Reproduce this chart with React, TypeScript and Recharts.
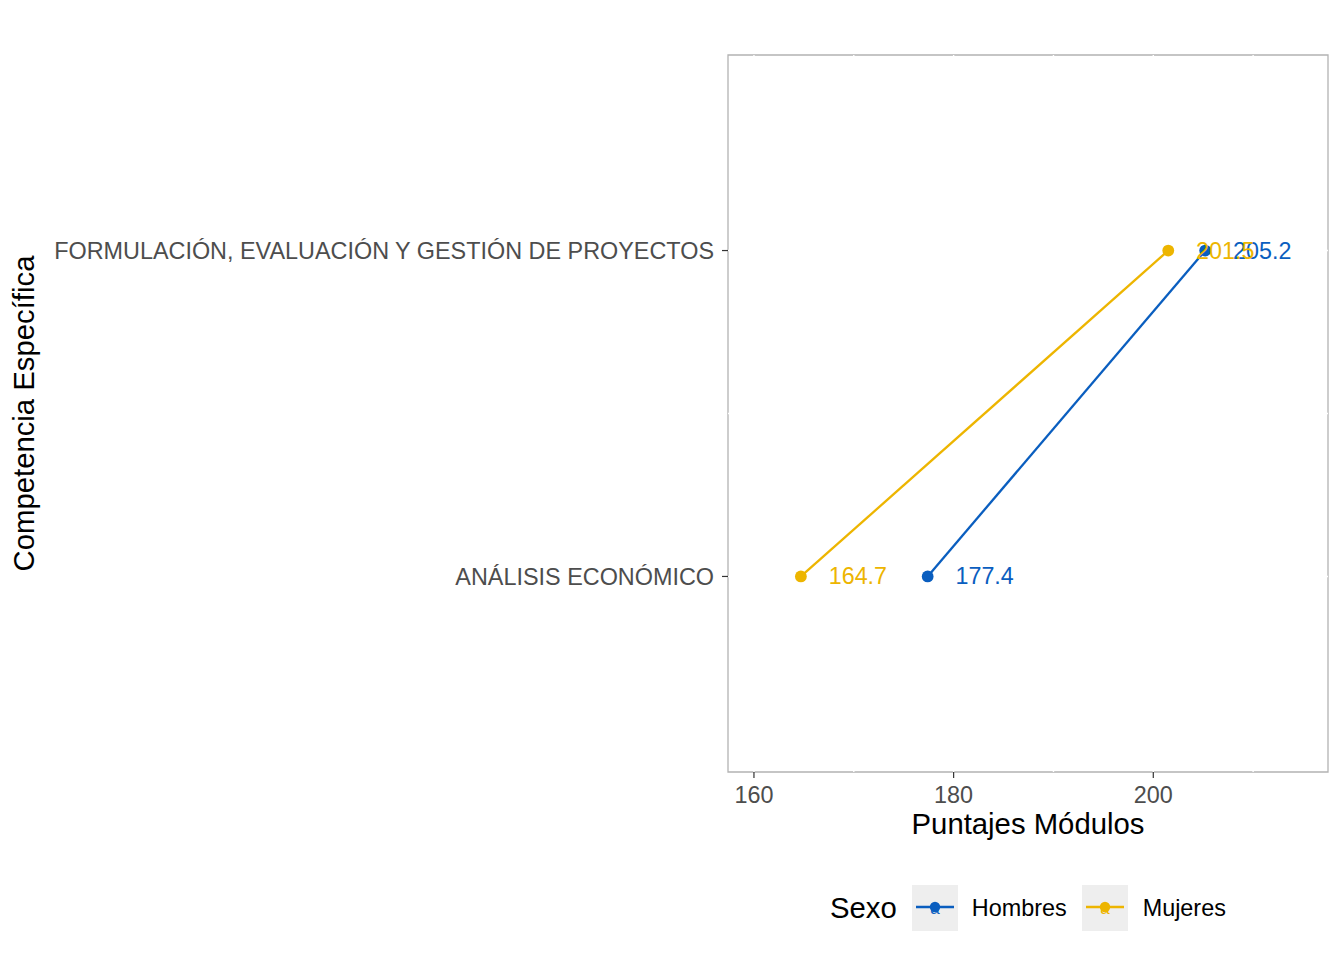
import React from 'react';
import {
  ScatterChart, Scatter, XAxis, YAxis, ReferenceArea, ReferenceLine, LabelList, Label,
} from 'recharts';

const FONT = '"Liberation Sans", Arial, Helvetica, sans-serif';

// values
const categories = ['ANÁLISIS ECONÓMICO', 'FORMULACIÓN, EVALUACIÓN Y GESTIÓN DE PROYECTOS'];
const hombres = [177.4, 205.2];
const mujeres = [164.7, 201.5];
const xTicks = [160, 180, 200];
const xGrid = [160, 170, 180, 190, 200, 210];
const yGrid = [1, 1.5, 2];
const sexes = ['Hombres', 'Mujeres'];

const BLUE = '#0A5EBF';
const GOLD = '#EDB500';
const COLORS = [BLUE, GOLD];

const X_DOMAIN: [number, number] = [157.4, 217.5];
const Y_DOMAIN: [number, number] = [0.4, 2.6];

const toPoints = (vals: number[]) => categories.map((c, i) => ({ x: vals[i], y: i + 1, cat: c }));
const series = [toPoints(hombres), toPoints(mujeres)];

const TICK = { fill: '#4D4D4D', fontSize: 23.4, fontFamily: FONT };
const TITLE_SIZE = 29.3;

const dot = (color: string) => (props: any) => (
  <circle cx={props.cx} cy={props.cy} r={5.9} fill={color} />
);

const valueLabel = (color: string) => (props: any) => {
  const { x, y, width, height, value } = props;
  const cx = Number(x) + Number(width || 0) / 2;
  const cy = Number(y) + Number(height || 0) / 2;
  return (
    <text x={cx + 57} y={cy} textAnchor="middle" dominantBaseline="central"
      fill={color} fontSize={23.3} fontFamily={FONT}>
      {Number(value).toFixed(1)}
    </text>
  );
};

const YTitle = (props: any) => {
  const vb = props.viewBox || { x: 0, y: 55, width: 728, height: 717 };
  const cx = vb.x + 33.5;
  const cy = vb.y + vb.height / 2;
  return (
    <text x={cx} y={cy} transform={`rotate(-90 ${cx} ${cy})`} textAnchor="middle"
      fontSize={TITLE_SIZE} fontFamily={FONT} fill="#000">
      Competencia Específica
    </text>
  );
};

const LegendKey = ({ color }: { color: string }) => (
  <svg width={46} height={46} style={{ display: 'block' }}>
    <rect x={0} y={0} width={46} height={46} fill="#EEEEEE" />
    <text x={23} y={29} textAnchor="middle" fontSize={17} fontFamily={FONT} fill={color}>a</text>
    <line x1={4} x2={42} y1={22} y2={22} stroke={color} strokeWidth={2.3} />
    <circle cx={23} cy={22} r={5.2} fill={color} />
  </svg>
);

export default function App() {
  return (
    <div style={{ position: 'absolute', left: 0, top: 0, width: 1344, height: 960, background: '#fff', fontFamily: FONT }}>
      <ScatterChart width={1344} height={960} margin={{ top: 55, right: 16, bottom: 126, left: 0 }}>
        <XAxis
          type="number" dataKey="x" domain={X_DOMAIN} ticks={xTicks} allowDataOverflow
          height={62} axisLine={false} tick={TICK}
          tickLine={{ stroke: '#333333', strokeWidth: 1.2 }} tickSize={6} tickMargin={8}
        >
          <Label value="Puntajes Módulos" position="insideBottom" offset={0}
            fontSize={TITLE_SIZE} fontFamily={FONT} fill="#000" />
        </XAxis>
        <YAxis
          type="number" dataKey="y" domain={Y_DOMAIN} ticks={[1, 2]} allowDataOverflow
          width={728} axisLine={false} tick={TICK}
          tickFormatter={(v: number) => categories[v - 1] ?? ''}
          tickLine={{ stroke: '#333333', strokeWidth: 1.2 }} tickSize={6} tickMargin={8}
        >
          <Label content={YTitle} />
        </YAxis>
        <ReferenceArea x1={X_DOMAIN[0]} x2={X_DOMAIN[1]} y1={Y_DOMAIN[0]} y2={Y_DOMAIN[1]}
          fill="#FFFFFF" fillOpacity={0} stroke="#B3B3B3" strokeWidth={1.3} ifOverflow="visible" />
        {xGrid.map(v => (
          <ReferenceLine key={`gx${v}`} x={v} stroke="#FFFFFF" strokeWidth={1.4} />
        ))}
        {yGrid.map(v => (
          <ReferenceLine key={`gy${v}`} y={v} stroke="#FFFFFF" strokeWidth={1.4} />
        ))}
        {series.map((pts, i) => (
          <Scatter
            key={sexes[i]}
            name={sexes[i]}
            data={pts}
            fill={COLORS[i]}
            line={{ stroke: COLORS[i], strokeWidth: 2.3 }}
            lineType="joint"
            shape={dot(COLORS[i])}
            isAnimationActive={false}
          >
            <LabelList dataKey="x" content={valueLabel(COLORS[i])} />
          </Scatter>
        ))}
      </ScatterChart>

      <div style={{ position: 'absolute', left: 830, top: 885, height: 46, display: 'flex', alignItems: 'center' }}>
        <span style={{ fontSize: TITLE_SIZE, color: '#000', marginRight: 15 }}>Sexo</span>
        <LegendKey color={BLUE} />
        <span style={{ fontSize: 23.4, color: '#000', marginLeft: 14, marginRight: 15 }}>Hombres</span>
        <LegendKey color={GOLD} />
        <span style={{ fontSize: 23.4, color: '#000', marginLeft: 15 }}>Mujeres</span>
      </div>
    </div>
  );
}
